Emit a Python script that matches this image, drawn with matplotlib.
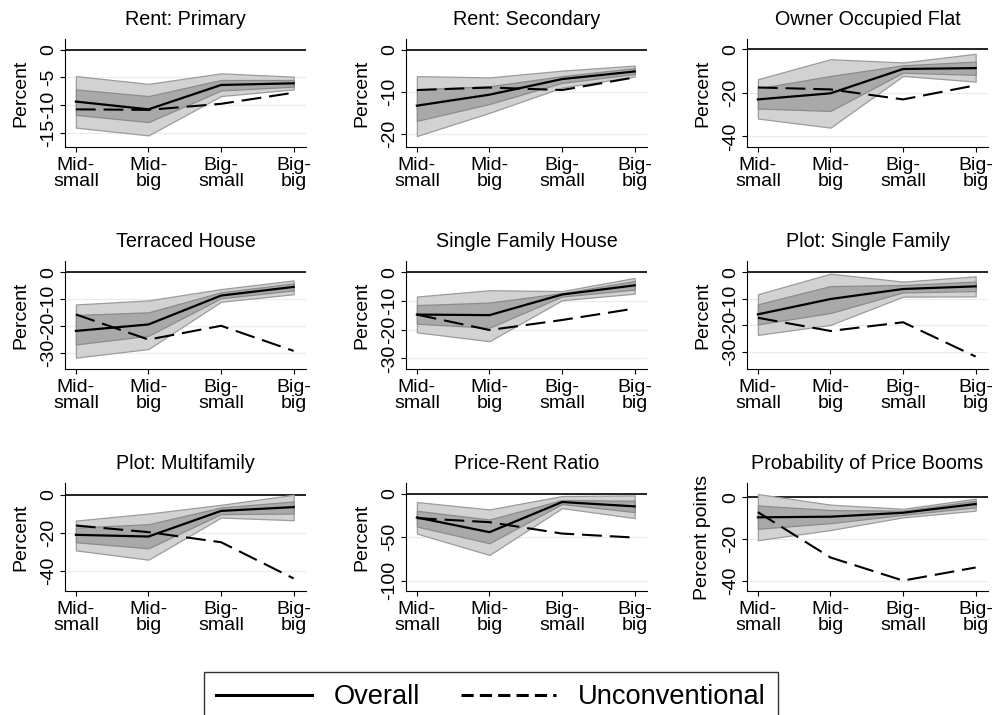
import numpy as np
import matplotlib.pyplot as plt
from matplotlib.lines import Line2D

plt.rcParams.update({"font.family": "Liberation Sans",
                     "font.size": 14,
                     "axes.edgecolor": "k",
                     "xtick.color": "k",
                     "ytick.color": "k"})

## categories and panel text
cats = ["Mid-\nsmall", "Mid-\nbig", "Big-\nsmall", "Big-\nbig"]
titles = ["Rent: Primary", "Rent: Secondary", "Owner Occupied Flat",
          "Terraced House", "Single Family House", "Plot: Single Family",
          "Plot: Multifamily", "Price-Rent Ratio", "Probability of Price Booms"]
ylabels = ["Percent"] * 8 + ["Percent points"]

## point estimates
overall = [[-9.4, -10.8, -6.4, -6.1],
           [-13.3, -10.7, -7.0, -5.2],
           [-23.0, -20.2, -9.0, -8.6],
           [-21.7, -19.3, -8.6, -5.4],
           [-14.7, -14.9, -7.7, -4.5],
           [-15.9, -10.1, -6.3, -5.3],
           [-21.1, -22.0, -8.5, -6.5],
           [-27.4, -44.3, -9.6, -14.6],
           [-9.6, -9.3, -7.4, -3.2]]
unconv = [[-10.8, -10.9, -9.8, -7.8],
          [-9.6, -9.0, -9.6, -6.6],
          [-17.5, -18.4, -23.0, -16.5],
          [-15.6, -24.9, -19.8, -29.1],
          [-14.7, -20.1, -16.6, -12.6],
          [-17.2, -22.2, -18.9, -31.9],
          [-16.2, -19.7, -25.0, -44.1],
          [-28.1, -32.8, -45.9, -50.5],
          [-7.1, -28.9, -40.0, -33.7]]

## confidence bands (wide and narrow)
outer_hi = [[-4.8, -6.2, -4.3, -4.9],
            [-6.3, -6.6, -5.0, -3.8],
            [-13.7, -4.5, -6.0, -2.0],
            [-11.9, -10.4, -6.2, -3.0],
            [-8.4, -6.2, -6.5, -1.9],
            [-8.3, -0.5, -3.5, -1.5],
            [-13.6, -9.9, -5.3, 0.0],
            [-9.6, -18.1, -2.7, -1.9],
            [1.6, -3.5, -5.5, -0.6]]
outer_lo = [[-14.1, -15.5, -8.4, -7.2],
            [-20.5, -15.0, -9.0, -6.4],
            [-31.8, -36.0, -12.2, -14.8],
            [-31.6, -28.4, -10.9, -8.1],
            [-20.9, -24.0, -9.7, -7.4],
            [-23.7, -19.9, -9.2, -9.1],
            [-29.3, -34.2, -12.0, -13.4],
            [-45.9, -70.5, -16.6, -28.1],
            [-20.6, -15.7, -9.6, -6.4]]
inner_hi = [[-7.2, -8.4, -5.5, -5.5],
            [-9.4, -8.7, -6.3, -4.4],
            [-17.9, -12.2, -7.3, -5.6],
            [-15.8, -14.8, -7.4, -4.1],
            [-11.4, -10.5, -7.2, -3.0],
            [-12.1, -5.2, -4.8, -3.5],
            [-17.3, -15.5, -6.7, -3.5],
            [-19.7, -29.7, -7.3, -8.1],
            [-3.9, -6.1, -6.4, -1.6]]
inner_lo = [[-11.8, -13.1, -7.4, -6.7],
            [-16.9, -12.9, -7.9, -5.8],
            [-27.2, -28.3, -10.7, -11.7],
            [-26.7, -23.5, -9.6, -6.7],
            [-17.9, -19.3, -8.4, -6.0],
            [-19.7, -15.4, -7.6, -7.1],
            [-25.0, -28.2, -10.2, -9.9],
            [-37.8, -57.0, -11.9, -21.2],
            [-15.1, -12.4, -8.4, -4.8]]

## axis ticks/limits per panel
yticks = [[0, -5, -10, -15], [0, -10, -20], [0, -20, -40],
          [0, -10, -20, -30], [0, -10, -20, -30], [0, -10, -20, -30],
          [0, -20, -40], [0, -50, -100], [0, -20, -40]]
ylims = [(-17.6, 1.9), (-23.1, 2.5), (-44.9, 4.8),
         (-35.8, 4.2), (-33.7, 4.0), (-36.6, 4.3),
         (-50.7, 6.2), (-112, 12.3), (-45.0, 6.9)]

W, H = 993, 715
fig = plt.figure(figsize=(W / 100, H / 100), dpi=100)

lefts = [65, 406, 747]
tops = [39, 261, 483]
aw, ah = 241, 108
x = np.arange(1, 5)

for n in range(9):
    r, c = divmod(n, 3)
    ax = fig.add_axes([lefts[c] / W, 1 - (tops[r] + ah) / H, aw / W, ah / H])

    ax.fill_between(x, outer_lo[n], outer_hi[n], facecolor='#d2d2d2',
                    edgecolor='#9c9c9c', lw=0.9, zorder=2)
    ax.fill_between(x, inner_lo[n], inner_hi[n], facecolor='#a9a9a9',
                    edgecolor='#8c8c8c', lw=0.9, zorder=3)
    ax.axhline(0, color='k', lw=1.2, zorder=1)
    ax.plot(x, overall[n], color='k', lw=1.6, zorder=5)
    ax.plot(x, unconv[n], color='k', lw=1.5, dashes=(9.5, 3.8), zorder=6)

    ax.set_xlim(0.85, 4.17)
    ax.set_ylim(*ylims[n])
    ax.set_xticks(x)
    ax.set_xticklabels(cats, linespacing=0.92)
    ax.set_yticks(yticks[n])
    ax.set_yticklabels([str(v) for v in yticks[n]], rotation=90, va='center')
    ax.tick_params(length=3.6, width=0.8, pad=2)
    ax.tick_params(axis='x', pad=3.5)
    ax.grid(axis='y', color='#e6eef1', lw=0.9, zorder=0)
    ax.set_axisbelow(True)
    ax.spines['top'].set_visible(False)
    ax.spines['right'].set_visible(False)
    ax.set_ylabel(ylabels[n], labelpad=8)
    ax.set_title(titles[n], fontsize=14.2, pad=10)

## legend at bottom, box cut by the figure edge
h1 = Line2D([], [], color='k', lw=2.2)
h2 = Line2D([], [], color='k', lw=2.2, dashes=(4.0, 2.0))
fig.legend([h1, h2], ["Overall", "Unconventional"], ncol=2,
           loc='upper left', bbox_to_anchor=(204 / W, 1 - 672 / H),
           fontsize=19.6, frameon=True, fancybox=False, edgecolor='k',
           handlelength=3.5, handletextpad=0.8, columnspacing=1.5,
           borderpad=0.45, borderaxespad=0)

plt.savefig('out.png', dpi=100)
